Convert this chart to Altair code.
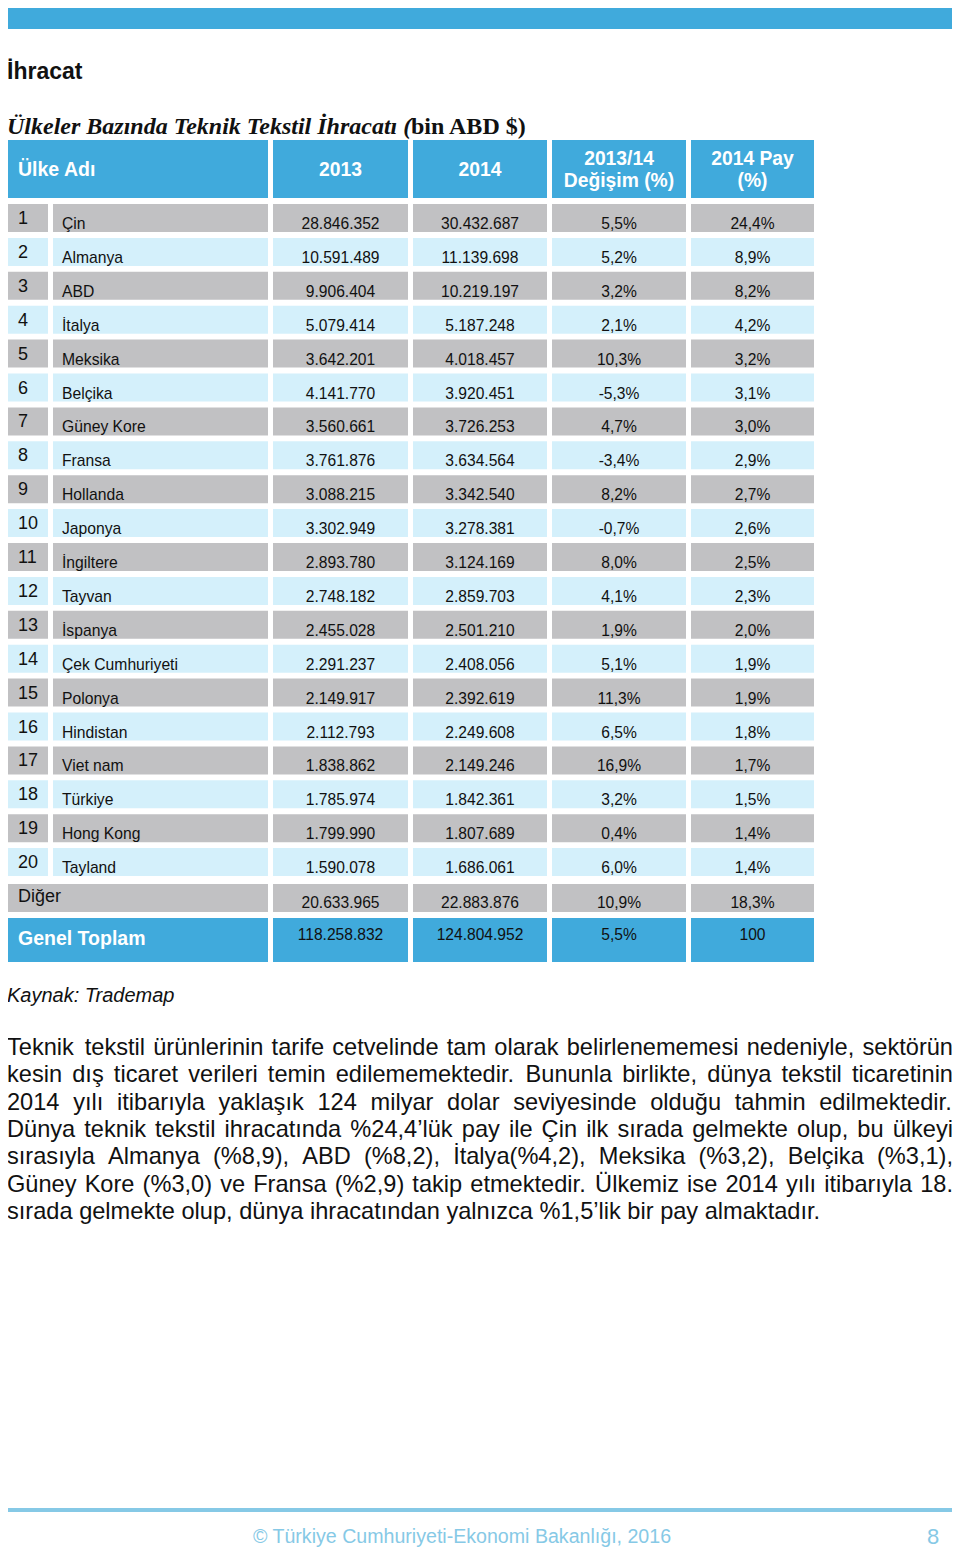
import altair as alt
import pandas as pd

# ---------------- data ----------------
ranks = list(range(1, 21))
countries = ["Çin", "Almanya", "ABD", "İtalya", "Meksika", "Belçika", "Güney Kore",
             "Fransa", "Hollanda", "Japonya", "İngiltere", "Tayvan", "İspanya",
             "Çek Cumhuriyeti", "Polonya", "Hindistan", "Viet nam", "Türkiye",
             "Hong Kong", "Tayland"]
v2013 = ["28.846.352", "10.591.489", "9.906.404", "5.079.414", "3.642.201", "4.141.770",
         "3.560.661", "3.761.876", "3.088.215", "3.302.949", "2.893.780", "2.748.182",
         "2.455.028", "2.291.237", "2.149.917", "2.112.793", "1.838.862", "1.785.974",
         "1.799.990", "1.590.078"]
v2014 = ["30.432.687", "11.139.698", "10.219.197", "5.187.248", "4.018.457", "3.920.451",
         "3.726.253", "3.634.564", "3.342.540", "3.278.381", "3.124.169", "2.859.703",
         "2.501.210", "2.408.056", "2.392.619", "2.249.608", "2.149.246", "1.842.361",
         "1.807.689", "1.686.061"]
change = ["5,5%", "5,2%", "3,2%", "2,1%", "10,3%", "-5,3%", "4,7%", "-3,4%", "8,2%", "-0,7%",
          "8,0%", "4,1%", "1,9%", "5,1%", "11,3%", "6,5%", "16,9%", "3,2%", "0,4%", "6,0%"]
share = ["24,4%", "8,9%", "8,2%", "4,2%", "3,2%", "3,1%", "3,0%", "2,9%", "2,7%", "2,6%",
         "2,5%", "2,3%", "2,0%", "1,9%", "1,9%", "1,8%", "1,7%", "1,5%", "1,4%", "1,4%"]
other_label = "Diğer"
other_vals = ["20.633.965", "22.883.876", "10,9%", "18,3%"]
total_label = "Genel Toplam"
total_vals = ["118.258.832", "124.804.952", "5,5%", "100"]
header_cols = [["2013"], ["2014"], ["2013/14", "Değişim (%)"], ["2014 Pay", "(%)"]]
header_first = "Ülke Adı"

page_title = "İhracat"
table_title_italic = "Ülkeler Bazında Teknik Tekstil İhracatı ("
table_title_upright = "bin ABD $)"
source = "Kaynak: Trademap"
paragraph = [
    "Teknik tekstil ürünlerinin tarife cetvelinde tam olarak belirlenememesi nedeniyle, sektörün",
    "kesin dış ticaret verileri temin edilememektedir. Bununla birlikte, dünya tekstil ticaretinin",
    "2014 yılı itibarıyla yaklaşık 124 milyar dolar seviyesinde olduğu tahmin edilmektedir.",
    "Dünya teknik tekstil ihracatında %24,4’lük pay ile Çin ilk sırada gelmekte olup, bu ülkeyi",
    "sırasıyla Almanya (%8,9), ABD (%8,2), İtalya(%4,2), Meksika (%3,2), Belçika (%3,1),",
    "Güney Kore (%3,0) ve Fransa (%2,9) takip etmektedir. Ülkemiz ise 2014 yılı itibarıyla 18.",
    "sırada gelmekte olup, dünya ihracatından yalnızca %1,5’lik bir pay almaktadır.",
]
footer = "© Türkiye Cumhuriyeti-Ekonomi Bakanlığı, 2016"
page_no = "8"

# ---------------- layout & style ----------------
W, H = 944, 1541
BLUE = "#40aadc"
LIGHT = "#d4f0fb"
GRAY = "#c1c1c3"
FOOT = "#86c9e6"
SANS = "Liberation Sans, Arial, sans-serif"
SERIF = "Liberation Serif, Times New Roman, serif"

NUM = (7, 48)
NAME = (53, 268)
COLS = [(273, 408), (413, 547), (552, 686), (691, 814)]
HEAD_Y = (140, 198)
ROW0, STRIDE, ROWH = 204, 33.9, 28
OTHER_Y = (884, 912)
TOTAL_Y = (918, 962)

# Arial / Liberation Sans advance widths (per 1000 em)
AW = {" ": 278, ",": 278, ".": 278, "%": 889, "(": 333, ")": 333, "’": 222, "'": 191, "-": 333}
for c in "0123456789":
    AW[c] = 556
AW.update(dict(zip("ABCDEFGHIJKLMNOPQRSTUVWXYZ",
                   [667, 667, 722, 722, 667, 611, 778, 722, 278, 500, 667, 556, 833, 722, 778,
                    667, 778, 722, 667, 611, 722, 667, 944, 667, 667, 611])))
AW.update(dict(zip("abcdefghijklmnopqrstuvwxyz",
                   [556, 556, 500, 556, 556, 278, 556, 556, 222, 222, 500, 222, 833, 556, 556,
                    556, 556, 333, 500, 278, 556, 500, 722, 500, 500, 500])))
AW.update({"ç": 500, "ğ": 556, "ı": 278, "ö": 556, "ş": 500, "ü": 556,
           "Ç": 722, "İ": 278, "Ü": 722, "Ö": 778, "Ş": 667, "Ğ": 778})


def em(s):
    return sum(AW.get(c, 556) for c in s) / 1000.0


PX, PR = 7, 953
P_SIZE = round((820 - PX) / em(paragraph[-1]), 1)
P_Y0, P_LS = 1048, 27.3

rects = []
texts = []


def rect(x, x2, y, y2, fill):
    rects.append(dict(x=x, x2=x2, y=y, y2=y2, fill=fill))


def text(x, y, t, style):
    texts.append(dict(x=x, y=y, t=t, style=style))


# page decoration
rect(6, 954, 4, 29, BLUE)
rect(6, 954, 1508, 1512, FOOT)

# header
rect(NUM[0], NAME[1], *HEAD_Y, BLUE)
text(18, 170, header_first, "head_l")
for (x0, x1), lines in zip(COLS, header_cols):
    rect(x0, x1, *HEAD_Y, BLUE)
    cx = (x0 + x1) / 2
    if len(lines) == 1:
        text(cx, 170, lines[0], "head_c")
    else:
        text(cx, 159, lines[0], "head_c")
        text(cx, 181, lines[1], "head_c")

# body rows
for i, (r, c, a, b, d, s) in enumerate(zip(ranks, countries, v2013, v2014, change, share)):
    top = ROW0 + STRIDE * i
    fill = GRAY if i % 2 == 0 else LIGHT
    rect(NUM[0], NUM[1], top, top + ROWH, fill)
    rect(NAME[0], NAME[1], top, top + ROWH, fill)
    text(18, top + 15, str(r), "rank")
    text(62, top + 20, c, "cell_l")
    for (x0, x1), v in zip(COLS, [a, b, d, s]):
        rect(x0, x1, top, top + ROWH, fill)
        text((x0 + x1) / 2, top + 20, v, "cell_c")

# other row
rect(NUM[0], NAME[1], *OTHER_Y, GRAY)
text(18, OTHER_Y[0] + 13, other_label, "rank")
for (x0, x1), v in zip(COLS, other_vals):
    rect(x0, x1, *OTHER_Y, GRAY)
    text((x0 + x1) / 2, OTHER_Y[0] + 19, v, "cell_c")

# total row
rect(NUM[0], NAME[1], *TOTAL_Y, BLUE)
text(18, TOTAL_Y[0] + 21, total_label, "head_l")
for (x0, x1), v in zip(COLS, total_vals):
    rect(x0, x1, *TOTAL_Y, BLUE)
    text((x0 + x1) / 2, TOTAL_Y[0] + 17, v, "cell_c")

# titles
text(7, 72, page_title, "h1")
text(7, 127, table_title_italic, "h2i")
text(411, 127, table_title_upright, "h2u")
text(7, 996, source, "src")

# paragraph, justified (all but last line)
for li, line in enumerate(paragraph):
    y = P_Y0 + P_LS * li
    if li == len(paragraph) - 1:
        text(PX, y, line, "para")
        continue
    words = line.split(" ")
    total = sum(em(w) for w in words) * P_SIZE
    gap = (PR - PX - total) / (len(words) - 1)
    x = PX
    for w in words:
        text(x, y, w, "para")
        x += em(w) * P_SIZE + gap

# footer
text(462, 1537, footer, "foot")
text(933, 1544, page_no, "pageno")

rect_df = pd.DataFrame(rects)
text_df = pd.DataFrame(texts)

xs = alt.Scale(domain=[8, 8 + W], nice=False, zero=False)
ys = alt.Scale(domain=[8, 8 + H], nice=False, zero=False, reverse=True)
X = lambda f: alt.X(f, type="quantitative", scale=xs, axis=None)
Y = lambda f: alt.Y(f, type="quantitative", scale=ys, axis=None)

base = alt.Chart(rect_df).mark_rect().encode(
    x=X("x"), x2="x2", y=Y("y"), y2="y2",
    fill=alt.Fill("fill:N", scale=None),
)

styles = {
    "head_l": dict(font=SANS, fontSize=19.5, fontWeight="bold", color="white", align="left"),
    "head_c": dict(font=SANS, fontSize=19.3, fontWeight="bold", color="white", align="center"),
    "rank": dict(font=SANS, fontSize=18, color="#111111", align="left"),
    "cell_l": dict(font=SANS, fontSize=15.7, color="#111111", align="left"),
    "cell_c": dict(font=SANS, fontSize=15.6, color="#111111", align="center"),
    "h1": dict(font=SANS, fontSize=23, fontWeight="bold", color="#111111", align="left"),
    "h2i": dict(font=SERIF, fontSize=24, fontWeight="bold", fontStyle="italic", color="#111111", align="left"),
    "h2u": dict(font=SERIF, fontSize=24, fontWeight="bold", color="#111111", align="left"),
    "src": dict(font=SANS, fontSize=20, fontStyle="italic", color="#111111", align="left"),
    "para": dict(font=SANS, fontSize=P_SIZE, color="#111111", align="left"),
    "foot": dict(font=SANS, fontSize=19.6, color=FOOT, align="center"),
    "pageno": dict(font=SANS, fontSize=22, color=FOOT, align="center", baseline="alphabetic"),
}

layers = [base]
for key, st in styles.items():
    sub = text_df[text_df["style"] == key]
    st = dict(st)
    bl = st.pop("baseline", "middle")
    layers.append(
        alt.Chart(sub).mark_text(baseline=bl, **st).encode(
            x=X("x"), y=Y("y"), text="t:N"
        )
    )

chart = alt.layer(*layers).properties(
    width=W, height=H, padding=0, autosize=alt.AutoSizeParams(type="none"),
    background="white",
).configure_view(stroke=None)

chart.save("out.html", embed_options={"renderer": "svg", "actions": False})
